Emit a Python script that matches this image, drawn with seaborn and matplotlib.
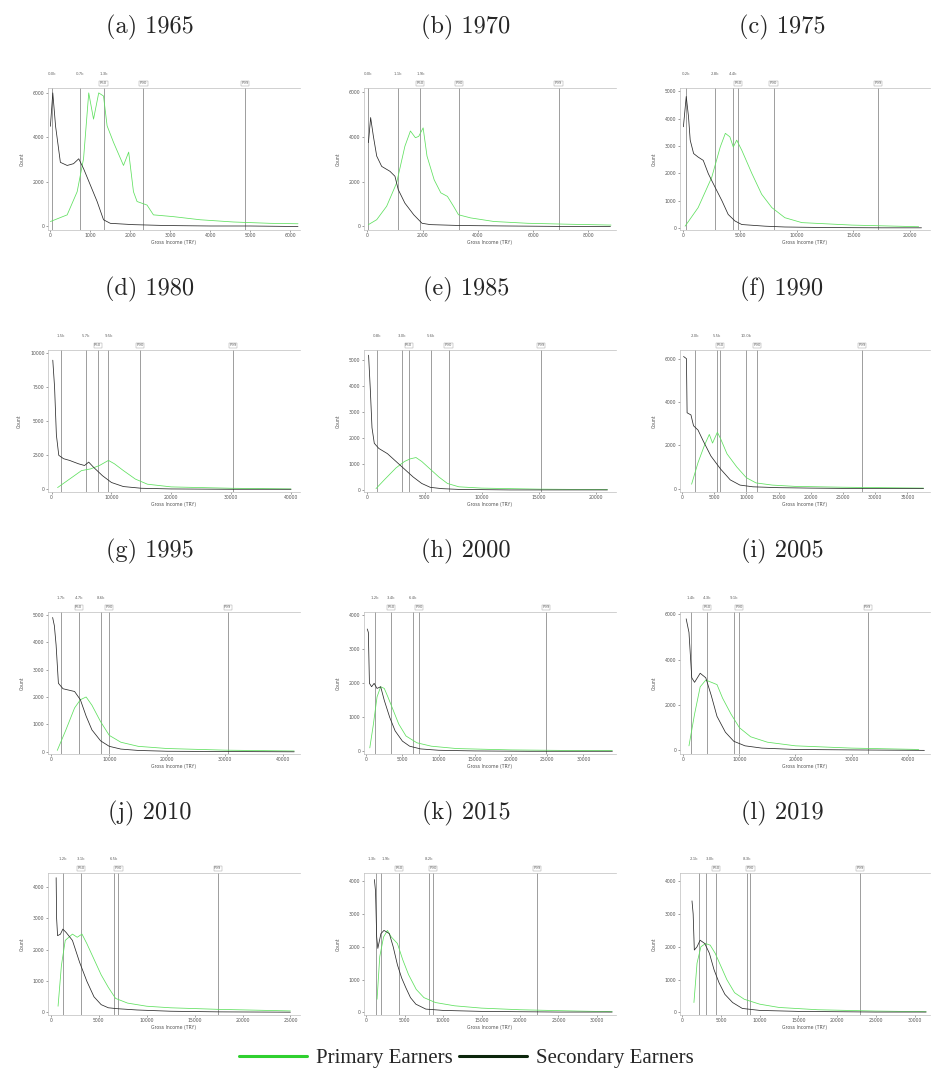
import numpy as np
import pandas as pd
import matplotlib
matplotlib.use("Agg")
import matplotlib.pyplot as plt
import matplotlib.transforms as mtransforms
from matplotlib.lines import Line2D
import seaborn as sns

sns.set_theme(style="white")
plt.rcParams['font.family'] = ['DejaVu Sans']

# ---------------- data (x in tick units of X_STEP, y in tick units of Y_STEP) -------------
YEARS = [1965, 1970, 1975, 1980, 1985, 1990, 1995, 2000, 2005, 2010, 2015, 2019]
LETTERS = ["a", "b", "c", "d", "e", "f", "g", "h", "i", "j", "k", "l"]
X_STEP = [1000, 2000, 5000, 10000, 5000, 5000, 10000, 5000, 10000, 5000, 5000, 5000]
Y_STEP = [2000, 2000, 1000, 2500, 1000, 2000, 1000, 1000, 2000, 1000, 1000, 1000]
N_XTICKS = [7, 5, 5, 5, 5, 8, 5, 7, 5, 6, 7, 7]
N_YTICKS = [4, 4, 6, 5, 6, 4, 6, 5, 4, 5, 5, 5]
X_MAX = [6.25, 4.5, 4.35, 4.15, 4.35, 7.7, 4.3, 6.9, 4.4, 5.2, 6.5, 6.4]
Y_MAX = [3.11, 3.09, 5.12, 4.1, 5.4, 3.2, 5.1, 4.1, 3.05, 4.45, 4.25, 4.25]

SEC_1965_X = [0, 0.06, 0.13, 0.25, 0.42, 0.58, 0.71, 0.83, 1.0, 1.17, 1.33, 1.5, 2.08, 2.92, 4.0, 5.0, 6.0, 6.2]
SEC_1965_Y = [2.25, 3.0, 2.25, 1.44, 1.37, 1.41, 1.52, 1.30, 0.93, 0.56, 0.15, 0.07, 0.04, 0.02, 0.01, 0.01, 0.0, 0.0]
PRI_1965_X = [0.0, 0.42, 0.67, 0.83, 0.96, 1.08, 1.21, 1.33, 1.42, 1.58, 1.83, 1.96, 2.08, 2.17, 2.42, 2.58, 3.08, 3.75, 4.58, 5.5, 6.2]
PRI_1965_Y = [0.11, 0.26, 0.78, 1.52, 3.0, 2.41, 3.0, 2.93, 2.26, 1.89, 1.37, 1.67, 0.78, 0.56, 0.48, 0.26, 0.22, 0.15, 0.10, 0.07, 0.06]

SEC_1970_X = [0.02, 0.06, 0.11, 0.17, 0.26, 0.41, 0.50, 0.56, 0.68, 0.84, 0.99, 1.14, 1.68, 2.5, 3.5, 4.4]
SEC_1970_Y = [1.87, 2.43, 2.01, 1.57, 1.34, 1.23, 1.12, 0.82, 0.52, 0.26, 0.07, 0.04, 0.02, 0.01, 0.0, 0.0]
PRI_1970_X = [0.02, 0.17, 0.35, 0.53, 0.68, 0.78, 0.87, 0.93, 1.01, 1.08, 1.21, 1.33, 1.45, 1.56, 1.65, 1.87, 2.29, 2.90, 3.6, 4.41]
PRI_1970_Y = [0.04, 0.15, 0.45, 0.97, 1.79, 2.13, 1.98, 2.01, 2.20, 1.57, 1.04, 0.75, 0.67, 0.45, 0.26, 0.19, 0.11, 0.07, 0.05, 0.03]

SEC_1975_X = [0, 0.05, 0.09, 0.12, 0.18, 0.26, 0.35, 0.44, 0.56, 0.68, 0.79, 0.91, 1.03, 1.44, 1.79, 2.5, 3.5, 4.2]
SEC_1975_Y = [3.70, 4.81, 4.07, 3.21, 2.72, 2.59, 2.47, 1.98, 1.48, 0.99, 0.49, 0.25, 0.12, 0.06, 0.03, 0.01, 0.0, 0.0]
PRI_1975_X = [0.03, 0.26, 0.50, 0.65, 0.74, 0.82, 0.88, 0.94, 1.03, 1.21, 1.38, 1.56, 1.79, 2.09, 2.97, 4.15]
PRI_1975_Y = [0.06, 0.74, 1.85, 2.96, 3.46, 3.33, 2.96, 3.21, 2.84, 1.98, 1.23, 0.74, 0.37, 0.19, 0.10, 0.04]

SEC_1980_X = [0.02, 0.05, 0.08, 0.12, 0.2, 0.3, 0.45, 0.55, 0.62, 0.7, 0.85, 1.0, 1.2, 1.5, 2.0, 3.0, 4.0]
SEC_1980_Y = [3.8, 3.0, 1.6, 1.0, 0.9, 0.85, 0.75, 0.7, 0.8, 0.65, 0.4, 0.2, 0.08, 0.03, 0.01, 0.0, 0.0]
PRI_1980_X = [0.1, 0.3, 0.5, 0.65, 0.8, 0.95, 1.05, 1.2, 1.4, 1.6, 2.0, 3.0, 4.0]
PRI_1980_Y = [0.05, 0.3, 0.55, 0.6, 0.7, 0.85, 0.75, 0.55, 0.3, 0.15, 0.07, 0.03, 0.01]

SEC_1985_X = [0.02, 0.05, 0.08, 0.12, 0.2, 0.35, 0.5, 0.65, 0.8, 0.95, 1.1, 1.3, 1.6, 2.5, 4.2]
SEC_1985_Y = [5.2, 3.9, 2.4, 1.8, 1.6, 1.4, 1.1, 0.8, 0.5, 0.25, 0.1, 0.05, 0.02, 0.0, 0.0]
PRI_1985_X = [0.15, 0.3, 0.5, 0.65, 0.75, 0.85, 0.95, 1.1, 1.25, 1.4, 1.6, 2.0, 3.0, 4.2]
PRI_1985_Y = [0.05, 0.4, 0.85, 1.1, 1.2, 1.25, 1.1, 0.8, 0.5, 0.25, 0.12, 0.07, 0.03, 0.01]

SEC_1990_X = [0.05, 0.14, 0.16, 0.28, 0.36, 0.5, 0.66, 0.9, 1.2, 1.5, 1.8, 2.2, 3.0, 4.0, 5.5, 7.5]
SEC_1990_Y = [3.05, 3.0, 1.75, 1.7, 1.45, 1.35, 1.1, 0.75, 0.45, 0.2, 0.08, 0.04, 0.02, 0.01, 0.0, 0.0]
PRI_1990_X = [0.3, 0.5, 0.7, 0.85, 0.95, 1.1, 1.2, 1.4, 1.7, 2.0, 2.3, 2.8, 3.5, 5.0, 7.5]
PRI_1990_Y = [0.1, 0.6, 1.0, 1.25, 1.05, 1.3, 1.15, 0.8, 0.5, 0.25, 0.13, 0.08, 0.05, 0.03, 0.01]

SEC_1995_X = [0.02, 0.05, 0.08, 0.12, 0.2, 0.3, 0.4, 0.5, 0.6, 0.7, 0.85, 1.0, 1.2, 1.5, 2.0, 3.0, 4.2]
SEC_1995_Y = [4.9, 4.6, 3.9, 2.5, 2.3, 2.25, 2.2, 1.9, 1.3, 0.8, 0.4, 0.2, 0.1, 0.05, 0.02, 0.01, 0.0]
PRI_1995_X = [0.1, 0.25, 0.4, 0.5, 0.6, 0.7, 0.85, 1.0, 1.2, 1.5, 2.0, 3.0, 4.2]
PRI_1995_Y = [0.05, 0.8, 1.6, 1.9, 2.0, 1.7, 1.1, 0.6, 0.35, 0.2, 0.12, 0.06, 0.03]

SEC_2000_X = [0.03, 0.06, 0.09, 0.15, 0.22, 0.3, 0.4, 0.5, 0.65, 0.8, 1.0, 1.2, 1.5, 2.0, 3.0, 4.5, 6.8]
SEC_2000_Y = [3.6, 3.5, 2.0, 1.9, 2.0, 1.85, 1.9, 1.5, 1.0, 0.6, 0.3, 0.15, 0.07, 0.03, 0.01, 0.0, 0.0]
PRI_2000_X = [0.1, 0.2, 0.3, 0.4, 0.5, 0.6, 0.75, 0.9, 1.1, 1.4, 1.8, 2.5, 4.0, 6.0, 6.8]
PRI_2000_Y = [0.1, 0.8, 1.6, 1.9, 1.85, 1.6, 1.2, 0.8, 0.45, 0.25, 0.15, 0.08, 0.04, 0.02, 0.02]

SEC_2005_X = [0.05, 0.1, 0.15, 0.2, 0.3, 0.4, 0.5, 0.6, 0.75, 0.9, 1.1, 1.4, 2.0, 3.0, 4.3]
SEC_2005_Y = [2.9, 2.6, 1.6, 1.5, 1.7, 1.6, 1.2, 0.75, 0.4, 0.2, 0.1, 0.05, 0.02, 0.01, 0.0]
PRI_2005_X = [0.1, 0.2, 0.3, 0.4, 0.5, 0.6, 0.7, 0.85, 1.0, 1.2, 1.5, 2.0, 3.0, 4.2]
PRI_2005_Y = [0.1, 0.8, 1.4, 1.55, 1.5, 1.45, 1.15, 0.8, 0.5, 0.3, 0.18, 0.1, 0.05, 0.02]

SEC_2010_X = [0.11, 0.12, 0.14, 0.2, 0.25, 0.32, 0.45, 0.6, 0.75, 0.9, 1.05, 1.2, 1.4, 1.8, 2.5, 3.5, 5.0]
SEC_2010_Y = [4.3, 3.0, 2.45, 2.5, 2.66, 2.55, 2.3, 1.6, 1.0, 0.5, 0.25, 0.15, 0.12, 0.08, 0.04, 0.02, 0.01]
PRI_2010_X = [0.15, 0.22, 0.3, 0.45, 0.55, 0.65, 0.75, 0.9, 1.05, 1.2, 1.35, 1.6, 2.0, 2.5, 3.5, 5.0]
PRI_2010_Y = [0.2, 1.5, 2.3, 2.5, 2.4, 2.5, 2.2, 1.7, 1.2, 0.8, 0.45, 0.3, 0.2, 0.15, 0.1, 0.05]

SEC_2015_X = [0.21, 0.24, 0.27, 0.3, 0.38, 0.46, 0.6, 0.7, 0.81, 0.92, 1.03, 1.15, 1.29, 1.55, 2.0, 3.0, 5.0, 6.4]
SEC_2015_Y = [4.05, 3.7, 2.3, 1.95, 2.4, 2.5, 2.4, 2.0, 1.45, 1.05, 0.75, 0.45, 0.25, 0.1, 0.06, 0.03, 0.01, 0.01]
PRI_2015_X = [0.28, 0.35, 0.45, 0.55, 0.65, 0.81, 0.95, 1.1, 1.3, 1.5, 1.8, 2.3, 3.0, 4.0, 5.5, 6.4]
PRI_2015_Y = [0.4, 1.7, 2.3, 2.5, 2.3, 2.1, 1.6, 1.15, 0.7, 0.45, 0.3, 0.2, 0.13, 0.08, 0.04, 0.02]

SEC_2019_X = [0.25, 0.28, 0.31, 0.38, 0.46, 0.58, 0.7, 0.82, 0.95, 1.1, 1.3, 1.55, 2.0, 3.0, 5.0, 6.3]
SEC_2019_Y = [3.4, 3.0, 1.9, 2.0, 2.2, 2.1, 1.8, 1.3, 0.9, 0.55, 0.3, 0.12, 0.06, 0.03, 0.01, 0.01]
PRI_2019_X = [0.3, 0.38, 0.48, 0.6, 0.72, 0.85, 1.0, 1.15, 1.35, 1.6, 2.0, 2.5, 3.5, 5.0, 6.3]
PRI_2019_Y = [0.3, 1.5, 2.0, 2.1, 2.05, 1.8, 1.4, 1.0, 0.6, 0.4, 0.25, 0.15, 0.08, 0.04, 0.02]

# vertical reference lines (tick units) and label row: t = upper row, b = lower row
VL_1965 = [0.04, 0.73, 1.33, 2.33, 4.88]; VR_1965 = ["t", "t", "tb", "b", "b"]
VL_1970 = [0.02, 0.55, 0.96, 1.66, 3.46]; VR_1970 = ["t", "t", "tb", "b", "b"]
VL_1975 = [0.05, 0.56, 0.88, 0.97, 1.59, 3.43]; VR_1975 = ["t", "t", "t", "b", "b", "b"]
VL_1980 = [0.15, 0.57, 0.77, 0.95, 1.48, 3.03]; VR_1980 = ["t", "t", "b", "t", "b", "b"]
VL_1985 = [0.16, 0.60, 0.72, 1.11, 1.42, 3.04]; VR_1985 = ["t", "t", "b", "t", "b", "b"]
VL_1990 = [0.41, 1.09, 1.19, 2.0, 2.34, 5.6]; VR_1990 = ["t", "t", "b", "t", "b", "b"]
VL_1995 = [0.17, 0.47, 0.86, 1.0, 3.05]; VR_1995 = ["t", "tb", "t", "b", "b"]
VL_2000 = [0.25, 0.69, 1.28, 1.47, 4.97]; VR_2000 = ["t", "tb", "t", "b", "b"]
VL_2005 = [0.14, 0.43, 0.91, 1.0, 3.29]; VR_2005 = ["t", "tb", "t", "b", "b"]
VL_2010 = [0.25, 0.63, 1.31, 1.41, 3.48]; VR_2010 = ["t", "tb", "t", "b", "b"]
VL_2015 = [0.26, 0.39, 0.86, 1.64, 1.74, 4.44]; VR_2015 = ["t", "t", "b", "t", "b", "b"]
VL_2019 = [0.42, 0.60, 0.88, 1.66, 1.76, 4.60]; VR_2019 = ["t", "t", "b", "t", "b", "b"]
LOWER_TAGS = ["P50", "P90", "P99"]

SEC = {1965: (SEC_1965_X, SEC_1965_Y), 1970: (SEC_1970_X, SEC_1970_Y), 1975: (SEC_1975_X, SEC_1975_Y),
       1980: (SEC_1980_X, SEC_1980_Y), 1985: (SEC_1985_X, SEC_1985_Y), 1990: (SEC_1990_X, SEC_1990_Y),
       1995: (SEC_1995_X, SEC_1995_Y), 2000: (SEC_2000_X, SEC_2000_Y), 2005: (SEC_2005_X, SEC_2005_Y),
       2010: (SEC_2010_X, SEC_2010_Y), 2015: (SEC_2015_X, SEC_2015_Y), 2019: (SEC_2019_X, SEC_2019_Y)}
PRI = {1965: (PRI_1965_X, PRI_1965_Y), 1970: (PRI_1970_X, PRI_1970_Y), 1975: (PRI_1975_X, PRI_1975_Y),
       1980: (PRI_1980_X, PRI_1980_Y), 1985: (PRI_1985_X, PRI_1985_Y), 1990: (PRI_1990_X, PRI_1990_Y),
       1995: (PRI_1995_X, PRI_1995_Y), 2000: (PRI_2000_X, PRI_2000_Y), 2005: (PRI_2005_X, PRI_2005_Y),
       2010: (PRI_2010_X, PRI_2010_Y), 2015: (PRI_2015_X, PRI_2015_Y), 2019: (PRI_2019_X, PRI_2019_Y)}
VL = {1965: (VL_1965, VR_1965), 1970: (VL_1970, VR_1970), 1975: (VL_1975, VR_1975), 1980: (VL_1980, VR_1980),
      1985: (VL_1985, VR_1985), 1990: (VL_1990, VR_1990), 1995: (VL_1995, VR_1995), 2000: (VL_2000, VR_2000),
      2005: (VL_2005, VR_2005), 2010: (VL_2010, VR_2010), 2015: (VL_2015, VR_2015), 2019: (VL_2019, VR_2019)}

PRI_COLOR = "#5ee05e"
SEC_COLOR = "#2a2a2a"

# ---------------- layout ----------------
W, H = 933, 1091
fig = plt.figure(figsize=(W / 100, H / 100), dpi=100)
COL_LEFT = [48, 364, 680]
COL_W = [252, 252, 250]
ROW_TOP = [88, 350, 612, 873]
AX_H = 142
TITLE_Y = [27, 289, 551, 813]
TITLE_X = [150, 466, 782]
X0 = -0.06


def short(v):
    return f"{v / 1000:.1f}k"


for i, year in enumerate(YEARS):
    r, c = divmod(i, 3)
    ax = fig.add_axes([COL_LEFT[c] / W, 1 - (ROW_TOP[r] + AX_H) / H, COL_W[c] / W, AX_H / H])
    xs, ys = X_STEP[i], Y_STEP[i]
    sx, sy = SEC[year]
    px, py = PRI[year]
    df = pd.concat([
        pd.DataFrame({"income": np.array(px) * xs, "count": np.array(py) * ys, "group": "Primary Earners"}),
        pd.DataFrame({"income": np.array(sx) * xs, "count": np.array(sy) * ys, "group": "Secondary Earners"}),
    ], ignore_index=True)
    sns.lineplot(data=df, x="income", y="count", hue="group",
                 palette={"Primary Earners": PRI_COLOR, "Secondary Earners": SEC_COLOR},
                 estimator=None, sort=False, lw=0.55, legend=False, ax=ax)
    ax.set_xlim(X0 * xs, X_MAX[i] * xs)
    ax.set_ylim(-0.08 * ys, Y_MAX[i] * ys)
    ax.set_xticks(np.arange(N_XTICKS[i]) * xs)
    ax.set_yticks(np.arange(N_YTICKS[i]) * ys)
    ax.set_xticklabels([f"{int(v)}" for v in np.arange(N_XTICKS[i]) * xs])
    ax.set_yticklabels([f"{int(v)}" for v in np.arange(N_YTICKS[i]) * ys])
    ax.tick_params(axis="both", labelsize=3.3, length=1.5, width=0.4, pad=1, colors="#555555",
                   bottom=True, left=True)
    ax.set_xlabel("Gross Income (TRY)", fontsize=3.3, labelpad=1, color="#555555")
    ax.set_ylabel("Count", fontsize=3.3, labelpad=6, color="#555555")
    for side in ["left", "top", "bottom"]:
        ax.spines[side].set_color("#bdbdbd")
        ax.spines[side].set_linewidth(0.5)
    ax.spines["right"].set_visible(False)

    trans = mtransforms.blended_transform_factory(ax.transData, ax.transAxes)
    vx, vr = VL[year]
    tops = [x for x, row in zip(vx, vr) if "t" in row]
    k = 0
    for x, row in zip(vx, vr):
        ax.axvline(x * xs, color="#777777", lw=0.5, zorder=1)
        if "t" in row:
            j = tops.index(x)
            ha = "center"
            if j + 1 < len(tops) and (tops[j + 1] - x) / (X_MAX[i] - X0) < 0.06:
                ha = "right"
            elif j > 0 and (x - tops[j - 1]) / (X_MAX[i] - X0) < 0.06:
                ha = "left"
            ax.text(x * xs, 1.085, short(x * xs), transform=trans, ha=ha, va="bottom",
                    fontsize=2.8, color="#666666")
        if "b" in row:
            ax.text(x * xs, 1.02, LOWER_TAGS[min(k, 2)], transform=trans, ha="center", va="bottom",
                    fontsize=2.8, color="#666666",
                    bbox=dict(boxstyle="square,pad=0.1", fc="white", ec="#999999", lw=0.3))
            k += 1

    fig.text(TITLE_X[c] / W, 1 - TITLE_Y[r] / H, f"({LETTERS[i]}) {year}", ha="center", va="center",
             family="cmr10", fontsize=17.5)

handles = [Line2D([], [], color="#2fd02f", lw=2.2), Line2D([], [], color="#0c260c", lw=2.2)]
fig.legend(handles, ["Primary Earners", "Secondary Earners"], loc="center",
           bbox_to_anchor=(466 / W, 1 - 1058 / H), ncol=2, frameon=False,
           prop=dict(family="Liberation Serif", size=15), handlelength=3.3,
           handletextpad=0.4, columnspacing=0.3)

fig.savefig("out.png", dpi=100, facecolor="white")
